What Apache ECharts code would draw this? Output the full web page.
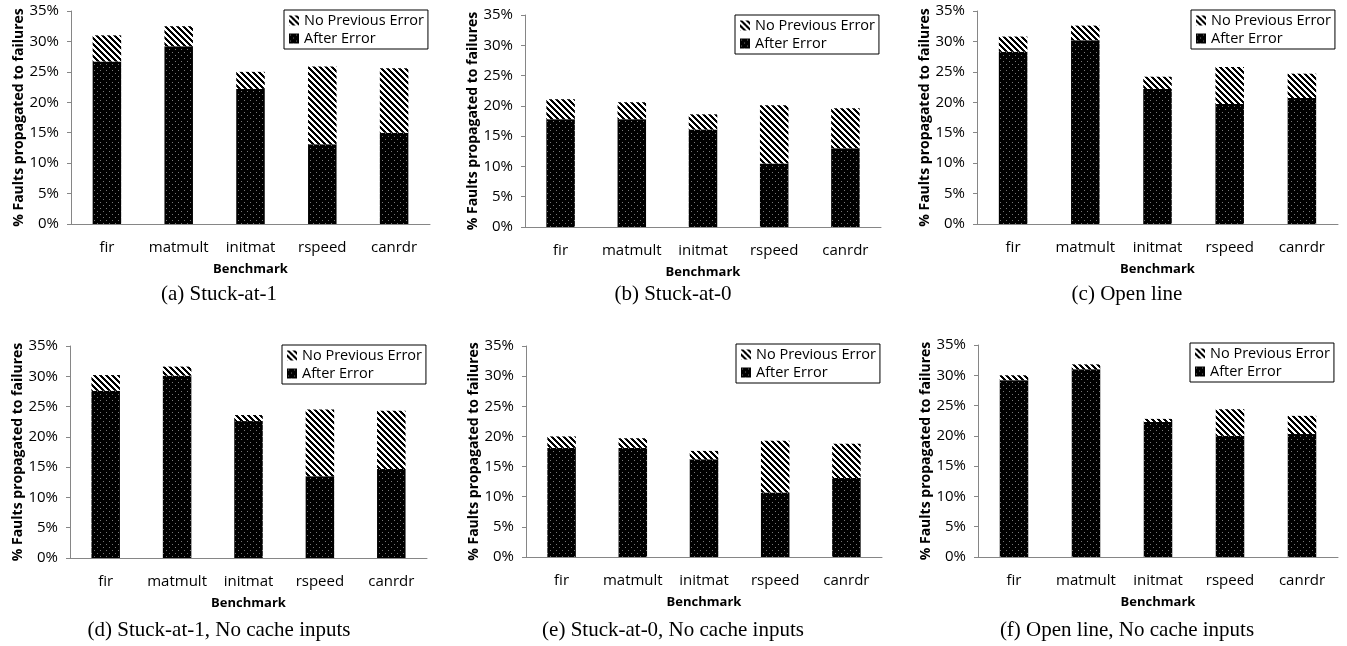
<!DOCTYPE html>
<html>
<head>
<meta charset="utf-8">
<script src="https://cdn.jsdelivr.net/npm/echarts@6/dist/echarts.min.js"></script>
<style>
  html, body { margin: 0; padding: 0; background: #fff; }
  #chart { width: 1347px; height: 646px; }
</style>
</head>
<body>
<div id="chart"></div>
<script>
// Benchmarks on the x axis of every panel
const categories = ['fir', 'matmult', 'initmat', 'rspeed', 'canrdr'];

// Share of faults propagated to failures (%), stacked: "After Error" at the bottom,
// "No Previous Error" on top of it.
const afterErrorA = [26.7, 29.2, 22.2, 13.1, 15.0];
const noPrevErrorA = [4.3, 3.3, 2.8, 12.8, 10.6];

const afterErrorB = [17.8, 17.8, 16.1, 10.5, 13.0];
const noPrevErrorB = [3.3, 2.8, 2.5, 9.6, 6.6];

const afterErrorC = [28.3, 30.2, 22.2, 19.7, 20.7];
const noPrevErrorC = [2.5, 2.4, 2.0, 6.1, 4.0];

const afterErrorD = [27.6, 30.1, 22.6, 13.5, 14.7];
const noPrevErrorD = [2.6, 1.5, 1.0, 11.0, 9.6];

const afterErrorE = [18.1, 18.1, 16.2, 10.7, 13.1];
const noPrevErrorE = [1.9, 1.6, 1.4, 8.6, 5.7];

const afterErrorF = [29.2, 31.0, 22.3, 20.0, 20.3];
const noPrevErrorF = [0.8, 0.8, 0.5, 4.4, 3.0];

const captions = [
  '(a) Stuck-at-1',
  '(b) Stuck-at-0',
  '(c) Open line',
  '(d) Stuck-at-1, No cache inputs',
  '(e) Stuck-at-0, No cache inputs',
  '(f) Open line, No cache inputs'
];

const seriesNames = ['After Error', 'No Previous Error'];
const yAxisTitle = '% Faults propagated to failures';
const xAxisTitle = 'Benchmark';

const panelData = [
  [afterErrorA, noPrevErrorA],
  [afterErrorB, noPrevErrorB],
  [afterErrorC, noPrevErrorC],
  [afterErrorD, noPrevErrorD],
  [afterErrorE, noPrevErrorE],
  [afterErrorF, noPrevErrorF]
];

// Placement of each panel on the page
const layouts = [
  { left: 71,  top: 11,  width: 359, height: 213, lgLeft: 284,  lgTop: 10,  capX: 219,  capY: 294 },
  { left: 525, top: 15,  width: 356, height: 212, lgLeft: 735,  lgTop: 15,  capX: 673,  capY: 294 },
  { left: 977, top: 11,  width: 361, height: 213, lgLeft: 1191, lgTop: 10,  capX: 1127, capY: 294 },
  { left: 70,  top: 346, width: 357, height: 212, lgLeft: 282,  lgTop: 345, capX: 219,  capY: 630 },
  { left: 526, top: 346, width: 356, height: 211, lgLeft: 736,  lgTop: 344, capX: 673,  capY: 630 },
  { left: 978, top: 345, width: 360, height: 212, lgLeft: 1190, lgTop: 343, capX: 1127, capY: 630 }
];

// Fill patterns: black with fine grey dots, and white with black "\" hatching
function makeTile(size, painter) {
  const c = document.createElement('canvas');
  c.width = size; c.height = size;
  const ctx = c.getContext('2d');
  const img = ctx.createImageData(size, size);
  for (let y = 0; y < size; y++) {
    for (let x = 0; x < size; x++) {
      const v = painter(x, y);
      const i = (y * size + x) * 4;
      img.data[i] = v; img.data[i + 1] = v; img.data[i + 2] = v; img.data[i + 3] = 255;
    }
  }
  ctx.putImageData(img, 0, 0);
  return c;
}
const dotTile = makeTile(6, (x, y) => ((x === 1 && y === 1) || (x === 4 && y === 4)) ? 120 : 0);
const hatchTile = makeTile(6, (x, y) => ((((x - y) % 6) + 6) % 6 < 3) ? 0 : 255);
const dotFill = { image: dotTile, repeat: 'repeat' };
const hatchFill = { image: hatchTile, repeat: 'repeat' };

const FONT = 'Open Sans';
const AXIS_GREY = '#868686';

const grid = [], xAxis = [], yAxis = [], series = [], legend = [], graphic = [];

layouts.forEach((L, i) => {
  grid.push({ left: L.left, top: L.top, width: L.width, height: L.height, containLabel: false });
  xAxis.push({
    type: 'category', gridIndex: i, data: categories,
    axisLine: { show: true, lineStyle: { color: AXIS_GREY, width: 1 } },
    axisTick: { show: false },
    axisLabel: { color: '#000', fontFamily: FONT, fontSize: 15, margin: 16, interval: 0 },
    name: xAxisTitle, nameLocation: 'middle', nameGap: 39,
    nameTextStyle: { color: '#000', fontFamily: FONT, fontSize: 13, fontWeight: 'bold' }
  });
  yAxis.push({
    type: 'value', gridIndex: i, min: 0, max: 35, interval: 5,
    axisLine: { show: true, lineStyle: { color: AXIS_GREY, width: 1 } },
    axisTick: { show: true, length: 4, lineStyle: { color: AXIS_GREY } },
    splitLine: { show: false },
    axisLabel: { color: '#000', fontFamily: FONT, fontSize: 15, margin: 12, formatter: '{value}%' },
    name: yAxisTitle, nameLocation: 'middle', nameGap: 45,
    nameTextStyle: { color: '#000', fontFamily: FONT, fontSize: 14, fontWeight: 'bold' }
  });
  const [after, noPrev] = panelData[i];
  series.push({
    type: 'bar', name: seriesNames[0], xAxisIndex: i, yAxisIndex: i,
    stack: 'p' + i, data: after, barWidth: 28.5,
    itemStyle: { color: dotFill }
  });
  series.push({
    type: 'bar', name: seriesNames[1], xAxisIndex: i, yAxisIndex: i,
    stack: 'p' + i, data: noPrev, barWidth: 28.5,
    itemStyle: { color: hatchFill }
  });
  legend.push({
    left: L.lgLeft, top: L.lgTop, orient: 'vertical',
    data: [seriesNames[1], seriesNames[0]],
    icon: 'rect', itemWidth: 10, itemHeight: 10, itemGap: 3,
    padding: [3, 4, 3, 5], borderColor: '#000', borderWidth: 1, backgroundColor: '#fff',
    selectedMode: false,
    textStyle: { color: '#000', fontFamily: FONT, fontSize: 14.5, lineHeight: 15 }
  });
  graphic.push({
    type: 'text', x: L.capX, y: L.capY,
    style: {
      text: captions[i], fill: '#000',
      font: '21px "Liberation Serif", "Times New Roman", serif',
      textAlign: 'center', textVerticalAlign: 'middle'
    }
  });
});

const chart = echarts.init(document.getElementById('chart'), null, { renderer: 'canvas' });
chart.setOption({
  animation: false,
  backgroundColor: '#fff',
  grid, xAxis, yAxis, series, legend, graphic
});
</script>
</body>
</html>
